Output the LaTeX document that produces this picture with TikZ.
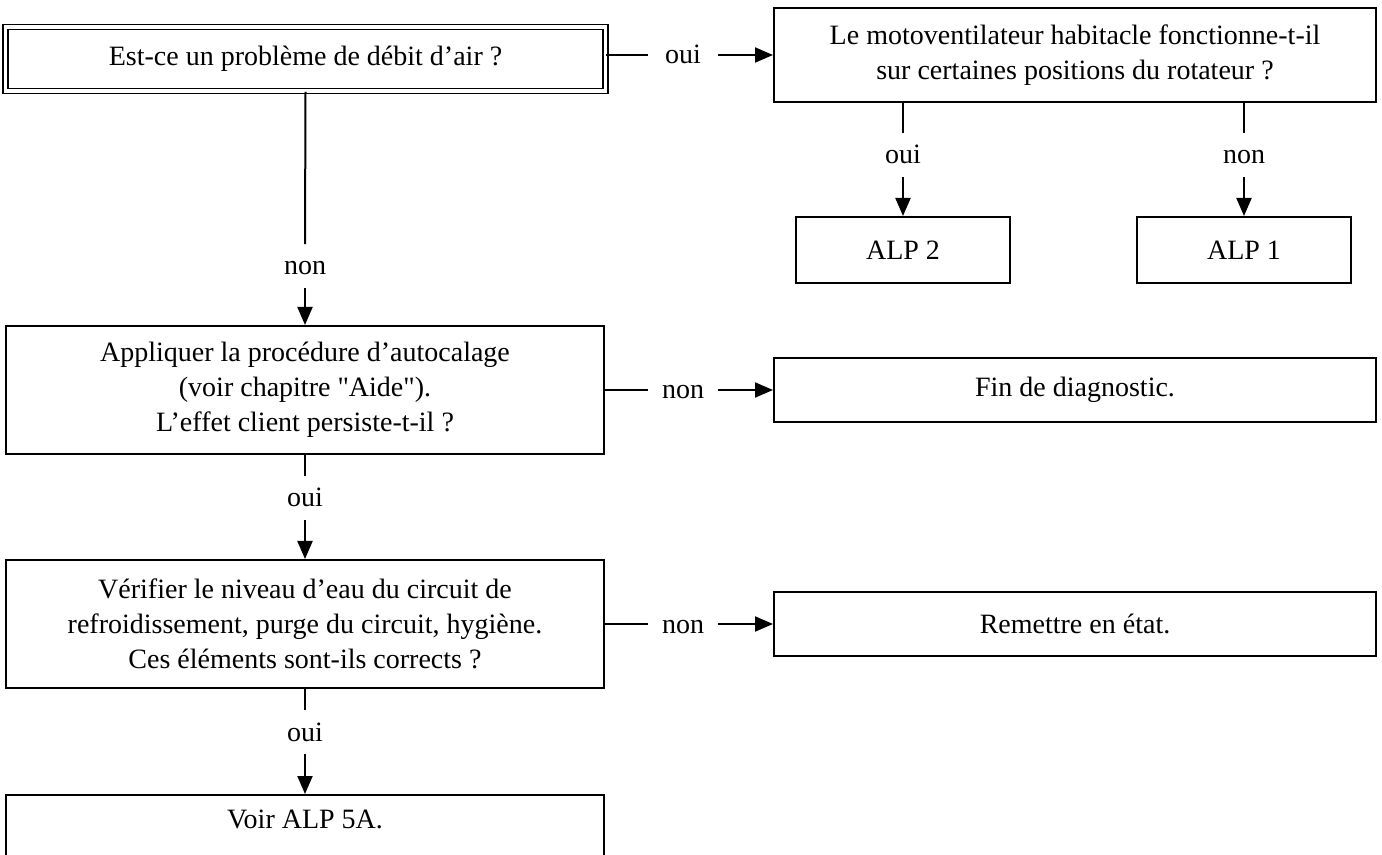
\documentclass[tikz,border=0pt]{standalone}
\usepackage{fontspec}
\setmainfont{Liberation Serif}
\usetikzlibrary{arrows.meta}

\begin{document}
\begin{tikzpicture}[x=0.5pt,y=-0.5pt,font=\fontsize{14}{17.5}\selectfont,
    debut/.style={draw,double,line width=0.9pt,double distance=1.6pt,inner sep=0pt,minimum width=299.75pt,minimum height=32pt},
    question/.style={draw,line width=1pt,align=center,inner sep=0pt,minimum width=299pt,minimum height=64pt},
    action/.style={draw,line width=1pt,align=center,inner sep=0pt,minimum width=301pt,minimum height=32pt},
    alp/.style={draw,line width=1pt,inner sep=0pt,minimum width=107pt,minimum height=33pt},
    rep/.style={inner sep=0pt,text height=9pt,text depth=0pt,minimum width=35pt,minimum height=21.5pt},
    trait/.style={line width=1pt},
    fleche/.style={line width=1pt,-{Triangle[length=9pt,width=7.5pt]}}]
    \useasboundingbox (0,0) rectangle (1382,855);

    % questions et actions
    \node[debut] (q1) at (305.5,59) {Est-ce un problème de débit d’air ?};
    \node[action,minimum height=47pt] (q2) at (1075,55) {Le motoventilateur habitacle fonctionne-t-il\\sur certaines positions du rotateur ?};
    \node[alp] (alp2) at (903,250) {ALP 2};
    \node[alp] (alp1) at (1244,250) {ALP 1};
    \node[question] (q3) at (305,390) {Appliquer la procédure d’autocalage\\(voir chapitre \textquotedbl Aide\textquotedbl).\\L’effet client persiste-t-il ?};
    \node[action] (fin) at (1075,390) {Fin de diagnostic.};
    \node[question] (q4) at (305,624) {Vérifier le niveau d’eau du circuit de\\refroidissement, purge du circuit, hygiène.\\Ces éléments sont-ils corrects ?};
    \node[action] (etat) at (1075,624) {Remettre en état.};
    \node[question,minimum height=33pt,text depth=9pt] (alp5) at (305,828) {Voir ALP 5A.};

    % reponses
    \node[rep] (r1) at (683,55) {oui};
    \node[rep] (r2) at (903,155) {oui};
    \node[rep] (r3) at (1244,155) {non};
    \node[rep] (r4) at (305,266) {non};
    \node[rep] (r5) at (683,390) {non};
    \node[rep] (r6) at (305,498) {oui};
    \node[rep] (r7) at (683,624) {non};
    \node[rep] (r8) at (305,732) {oui};

    \draw[trait] (q1.east |- r1) -- (r1.west);
    \draw[fleche] (r1.east) -- (q2.west);
    \draw[trait] (q2.south -| r2) -- (r2.north);
    \draw[fleche] (r2.south) -- (alp2.north);
    \draw[trait] (q2.south -| r3) -- (r3.north);
    \draw[fleche] (r3.south) -- (alp1.north);
    \draw[trait] (q1.south) -- (r4.north);
    \draw[fleche] (r4.south) -- (q3.north);
    \draw[trait] (q3.east) -- (r5.west);
    \draw[fleche] (r5.east) -- (fin.west);
    \draw[trait] (q3.south) -- (r6.north);
    \draw[fleche] (r6.south) -- (q4.north);
    \draw[trait] (q4.east) -- (r7.west);
    \draw[fleche] (r7.east) -- (etat.west);
    \draw[trait] (q4.south) -- (r8.north);
    \draw[fleche] (r8.south) -- (alp5.north);
\end{tikzpicture}
\end{document}
